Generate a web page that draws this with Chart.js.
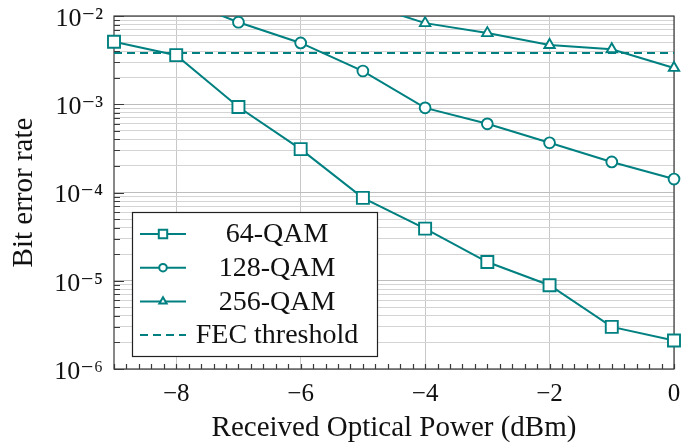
<!DOCTYPE html>
<html>
<head>
<meta charset="utf-8">
<script src="https://cdn.jsdelivr.net/npm/chart.js@4.4.1/dist/chart.umd.min.js"></script>
<style>
  html, body { margin: 0; padding: 0; background: #fff; }
  #wrap { width: 681px; height: 446px; }
</style>
</head>
<body>
<div id="wrap"><canvas id="myChart"></canvas></div>
<script>
// received optical power (dBm) and measured BER per modulation
const power = [-9, -8, -7, -6, -5, -4, -3, -2, -1, 0]
const ber64 = [5.1e-3, 3.6e-3, 9.3e-4, 3.1e-4, 8.7e-5, 3.9e-5, 1.63e-5, 8.9e-6, 3.0e-6, 2.1e-6]
const ber128 = [null, 1.6e-2, 8.5e-3, 4.95e-3, 2.38e-3, 9.1e-4, 6.0e-4, 3.66e-4, 2.22e-4, 1.42e-4]
const ber256 = [null, null, null, null, 1.4e-2, 8.3e-3, 6.4e-3, 4.7e-3, 4.2e-3, 2.58e-3]
const fecLimit = 3.8e-3
const seriesNames = ['64-QAM', '128-QAM', '256-QAM', 'FEC threshold']
const xLabelTicks = [-8, -6, -4, -2, 0]
const yDecades = [-6, -5, -4, -3, -2]

const teal = '#008080'
const serif = "'Liberation Serif', 'DejaVu Serif', serif"
const sup = { '-': '\u207B', '0': '\u2070', '1': '\u00B9', '2': '\u00B2', '3': '\u00B3', '4': '\u2074', '5': '\u2075', '6': '\u2076', '7': '\u2077', '8': '\u2078', '9': '\u2079' }

const toPoints = arr => power.map((x, i) => ({ x: x, y: arr[i] })).filter(p => p.y !== null)

const isDecade = v => {
    const e = Math.round(Math.log10(v))
    return Math.abs(v - Math.pow(10, e)) / v < 1e-6
}

function lineSet(label, arr, style, radius) {
    return {
        label: label,
        data: toPoints(arr),
        borderColor: teal,
        borderWidth: 2,
        pointStyle: style,
        pointRadius: radius,
        pointBorderWidth: 1.9,
        pointBorderColor: teal,
        pointBackgroundColor: '#fff',
        clip: { left: 12, right: 12, top: 0, bottom: 12 }
    }
}

// frame + inward tick marks (pgfplots look)
const frame = {
    id: 'frame',
    beforeDatasetsDraw(chart) {
        const { ctx, chartArea: a, scales } = chart
        ctx.save()
        ctx.strokeStyle = '#3a3a3a'
        ctx.lineWidth = 1.2
        ctx.beginPath()
        scales.x.ticks.forEach(t => {
            const px = Math.round(scales.x.getPixelForValue(t.value)) + 0.5
            ctx.moveTo(px, a.bottom)
            ctx.lineTo(px, a.bottom - 5)
        })
        scales.y.ticks.forEach(t => {
            const py = Math.round(scales.y.getPixelForValue(t.value)) + 0.5
            ctx.moveTo(a.left, py)
            ctx.lineTo(a.left + (isDecade(t.value) ? 10 : 6), py)
        })
        ctx.stroke()
        ctx.strokeRect(a.left, a.top, a.right - a.left, a.bottom - a.top)
        ctx.restore()
    }
}

// boxed legend with centred labels
const boxLegend = {
    id: 'boxLegend',
    afterDatasetsDraw(chart) {
        const { ctx, chartArea: a } = chart
        const left = a.left + 18, top = a.top + 196, w = 245, h = 144
        ctx.save()
        ctx.fillStyle = '#fff'
        ctx.fillRect(left, top, w, h)
        ctx.strokeStyle = '#222'
        ctx.lineWidth = 1.2
        ctx.strokeRect(left + 0.5, top + 0.5, w, h)
        chart.data.datasets.forEach((ds, i) => {
            const y = top + 22 + i * 33.7
            ctx.strokeStyle = ds.borderColor
            ctx.lineWidth = ds.borderWidth
            ctx.setLineDash(ds.borderDash || [])
            ctx.beginPath()
            ctx.moveTo(left + 8, y)
            ctx.lineTo(left + 54, y)
            ctx.stroke()
            ctx.setLineDash([])
            if (ds.pointRadius > 0) {
                ctx.fillStyle = '#fff'
                Chart.helpers.drawPoint(ctx, {
                    pointStyle: ds.pointStyle,
                    radius: ds.pointRadius * 0.7,
                    borderWidth: ds.pointBorderWidth,
                    rotation: 0
                }, left + 31, y)
            }
            ctx.fillStyle = '#111'
            ctx.font = '28px ' + serif
            ctx.textAlign = 'center'
            ctx.textBaseline = 'middle'
            ctx.fillText(ds.label, left + 145, y + 1)
        })
        ctx.restore()
    }
}

const ctx = document.getElementById('myChart')

const myChart = new Chart(ctx, {
    type: 'line',
    data: {
        datasets: [
            lineSet(seriesNames[0], ber64, 'rect', 8.5),
            lineSet(seriesNames[1], ber128, 'circle', 5.4),
            lineSet(seriesNames[2], ber256, 'triangle', 6),
            {
                label: seriesNames[3],
                data: [{ x: power[0], y: fecLimit }, { x: power[power.length - 1], y: fecLimit }],
                borderColor: teal,
                borderWidth: 2,
                borderDash: [8, 5],
                pointRadius: 0
            }
        ]
    },
    options: {
        responsive: true,
        maintainAspectRatio: false,
        animation: false,
        devicePixelRatio: 1,
        layout: { autoPadding: false, padding: { top: 16, right: 7, left: 0, bottom: 0 } },
        plugins: { legend: { display: false }, tooltip: { enabled: false } },
        scales: {
            x: {
                type: 'linear',
                min: -9,
                max: 0,
                afterBuildTicks: scale => {
                    const t = []
                    for (let i = 0; i <= 45; i++) t.push({ value: Math.round((-9 + i * 0.2) * 10) / 10 })
                    scale.ticks = t
                },
                afterFit: scale => {
                    scale.height = 77
                    scale.paddingLeft = 0
                    scale.paddingRight = 0
                },
                ticks: {
                    autoSkip: false,
                    maxRotation: 0,
                    padding: 10,
                    color: '#111',
                    font: { family: serif, size: 25 },
                    callback: v => xLabelTicks.includes(v) ? (v < 0 ? '\u2212' + Math.abs(v) : String(v)) : ''
                },
                grid: {
                    drawTicks: false,
                    lineWidth: 1,
                    color: c => (c.tick && xLabelTicks.includes(c.tick.value)) ? '#c8c8c8' : 'rgba(0,0,0,0)'
                },
                border: { display: false },
                title: {
                    display: true,
                    text: 'Received Optical Power (dBm)',
                    color: '#111',
                    font: { family: serif, size: 29 },
                    padding: { top: 0, bottom: 0 }
                }
            },
            y: {
                type: 'logarithmic',
                min: 1e-6,
                max: 1e-2,
                afterBuildTicks: scale => {
                    const t = []
                    for (let e = -6; e < -2; e++) {
                        for (let k = 1; k <= 9; k++) t.push({ value: k * Math.pow(10, e) })
                    }
                    t.push({ value: 1e-2 })
                    scale.ticks = t
                },
                afterFit: scale => {
                    scale.width = 114
                    scale.paddingTop = 0
                    scale.paddingBottom = 0
                },
                ticks: {
                    autoSkip: false,
                    padding: 11,
                    labelOffset: 3,
                    color: '#111',
                    font: { family: serif, size: 26 },
                    callback: v => {
                        if (!isDecade(v)) return ''
                        const e = Math.round(Math.log10(v))
                        if (!yDecades.includes(e)) return ''
                        return '10' + String(e).split('').map(c => sup[c]).join('')
                    }
                },
                grid: {
                    drawTicks: false,
                    lineWidth: 1,
                    color: c => (c.tick && isDecade(c.tick.value)) ? '#bdbdbd' : '#d4d4d4'
                },
                border: { display: false },
                title: {
                    display: true,
                    text: 'Bit error rate',
                    color: '#111',
                    font: { family: serif, size: 29 },
                    padding: { top: 7, bottom: 7 }
                }
            }
        }
    },
    plugins: [frame, boxLegend]
})
</script>
</body>
</html>
